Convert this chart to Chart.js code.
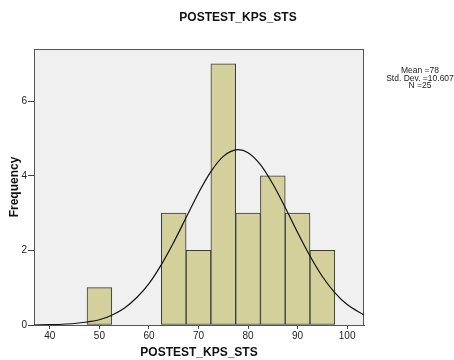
<!DOCTYPE html>
<html>
<head>
<meta charset="utf-8">
<script src="https://cdn.jsdelivr.net/npm/chart.js@4"></script>
<style>
  body { margin: 0; background: #fff; }
</style>
</head>
<body>
<canvas id="hist" width="454" height="360"></canvas>
<script>
// histogram bins (centre of each 5-wide bin) and counts
const binCenters = [50, 55, 60, 65, 70, 75, 80, 85, 90, 95];
const frequencies = [1, 0, 0, 3, 2, 7, 3, 4, 3, 2];

// normal curve
const curveX = [36.8, 40, 42.5, 45, 47.5, 50, 52.5, 55, 57.5, 60, 62.5, 65, 67.5, 70, 72.5, 75, 78, 80, 82.5, 85, 87.5, 90, 92.5, 95, 97.5, 100, 103.4];
const curveY = [0.00, 0.01, 0.02, 0.04, 0.08, 0.14, 0.26, 0.45, 0.73, 1.11, 1.62, 2.22, 2.88, 3.54, 4.11, 4.52, 4.70, 4.62, 4.30, 3.78, 3.15, 2.48, 1.85, 1.30, 0.87, 0.55, 0.27];

const xTicks = [40, 50, 60, 70, 80, 90, 100];
const yTicks = [0, 2, 4, 6];
const statLines = ['Mean =78', 'Std. Dev. =10.607', 'N =25'];
const mainTitle = 'POSTEST_KPS_STS';

Chart.defaults.font.family = '"Liberation Sans", Arial, sans-serif';

const frame = {
    id: 'frame',
    beforeDraw(chart) {
        const a = chart.chartArea;
        const ctx = chart.ctx;
        ctx.save();
        ctx.fillStyle = '#f0f0f0';
        ctx.fillRect(a.left, a.top, a.right - a.left, a.bottom - a.top);
        ctx.restore();
    },
    beforeDatasetsDraw(chart) {
        const a = chart.chartArea;
        const ctx = chart.ctx;
        ctx.save();
        ctx.strokeStyle = '#555';
        ctx.lineWidth = 1;
        ctx.strokeRect(a.left + 0.5, a.top + 0.5, a.right - a.left - 1, a.bottom - a.top);
        ctx.restore();
    },
    afterDraw(chart) {
        const ctx = chart.ctx;
        ctx.save();
        ctx.fillStyle = '#111';
        ctx.textAlign = 'center';
        ctx.textBaseline = 'middle';
        ctx.font = 'bold 12px "Liberation Sans", Arial';
        ctx.fillText(mainTitle, 238, 18);
        ctx.font = '8.5px "Liberation Sans", Arial';
        ctx.fillStyle = '#222';
        statLines.forEach((t, i) => ctx.fillText(t, 420, 71 + i * 7.5));
        ctx.restore();
    }
};

new Chart('hist', {
    data: {
        datasets: [{
            type: 'line',
            order: 0,
            data: curveX.map((x, i) => ({x: x, y: curveY[i]})),
            borderColor: '#111',
            borderWidth: 1.2,
            pointRadius: 0,
            cubicInterpolationMode: 'monotone',
            fill: false
        }, {
            type: 'bar',
            order: 1,
            data: binCenters.map((x, i) => ({x: x, y: frequencies[i]})),
            backgroundColor: '#d4d09b',
            borderColor: '#3a3a3a',
            borderWidth: 1,
            borderSkipped: false,
            barPercentage: 1,
            categoryPercentage: 1,
            grouped: false
        }]
    },
    options: {
        responsive: false,
        animation: false,
        devicePixelRatio: 1,
        layout: { padding: { top: 49, right: 90, left: 0, bottom: 0 } },
        plugins: {
            legend: { display: false },
            tooltip: { enabled: false }
        },
        scales: {
            x: {
                type: 'linear',
                position: 'bottom',
                min: 36.8,
                max: 103.4,
                offset: false,
                afterBuildTicks: s => { s.ticks = xTicks.map(v => ({value: v})); },
                afterFit: s => { s.height = 35; },
                grid: { drawOnChartArea: false, offset: false, tickLength: 4, color: '#444' },
                border: { color: '#444' },
                ticks: { color: '#222', font: { size: 10 }, padding: 1, maxRotation: 0 },
                title: {
                    display: true,
                    text: 'POSTEST_KPS_STS',
                    color: '#111',
                    font: { size: 12, weight: 'bold' },
                    padding: { top: 0, bottom: 0 }
                }
            },
            y: {
                min: 0,
                max: 7.4,
                afterBuildTicks: s => { s.ticks = yTicks.map(v => ({value: v})); },
                afterFit: s => { s.width = 34; },
                grid: { drawOnChartArea: false, tickLength: 6, color: '#444' },
                border: { color: '#444' },
                ticks: { color: '#222', font: { size: 10 }, padding: 1 },
                title: {
                    display: true,
                    text: 'Frequency',
                    color: '#111',
                    font: { size: 12, weight: 'bold' },
                    padding: { top: 7, bottom: 0 }
                }
            }
        }
    },
    plugins: [frame]
});
</script>
</body>
</html>
